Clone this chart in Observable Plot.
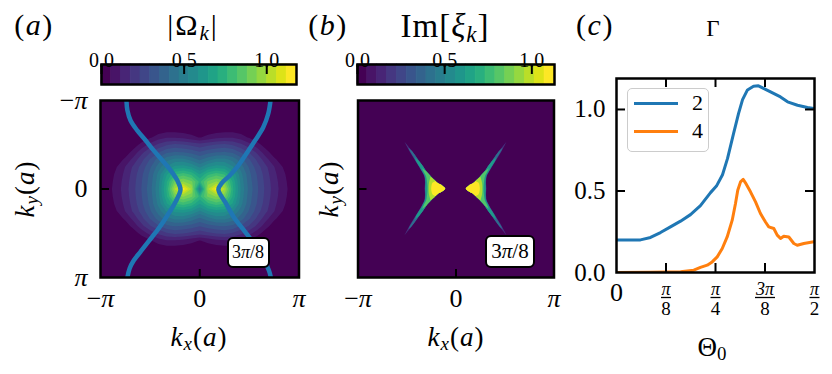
<!DOCTYPE html>
<html><head><meta charset="utf-8">
<script src="https://cdn.jsdelivr.net/npm/d3@7"></script>
<script src="https://cdn.jsdelivr.net/npm/@observablehq/plot@0.6"></script>
<style>
body{margin:0;background:#fff;}
#fig{position:relative;width:832px;height:374px;overflow:hidden;font-family:"Liberation Serif",serif;color:#000;background:#fff;}
#fig > svg, #fig > figure{position:absolute;margin:0;}
.lbl{position:absolute;white-space:nowrap;line-height:1;}
.lbl sub{font-size:0.7em;vertical-align:-0.25em;line-height:0;}
.box{position:absolute;border:2px solid #000;border-radius:6px;background:#fff;display:flex;align-items:center;justify-content:center;box-sizing:border-box;white-space:nowrap;}
.legend{position:absolute;border:1.5px solid #cccccc;border-radius:5px;background:rgba(255,255,255,0.85);box-sizing:border-box;}
.legend .ln{position:absolute;height:3px;}
.legend .tx{position:absolute;font-size:22px;line-height:1;transform:translateY(-50%);}
</style></head><body><div id="fig"></div>
<script>
const PI = Math.PI;

// ---------------- Panel (a): |Ω_k| ----------------
// samples on a π/12 grid, quadrant k_x = 0..π (columns), k_y = 0..π (rows); map is mirror-symmetric
const omegaStep = PI / 12;
const omegaQuadrant = [
  [0.50,1.00,1.16,1.01,0.72,0.52,0.39,0.30,0.22,0.15,0.09,0.04,0.01],
  [0.75,0.90,0.95,0.90,0.70,0.51,0.38,0.295,0.215,0.145,0.085,0.035,0.01],
  [0.65,0.75,0.80,0.76,0.64,0.49,0.37,0.285,0.205,0.135,0.075,0.03,0.01],
  [0.52,0.59,0.62,0.61,0.54,0.44,0.345,0.26,0.19,0.12,0.06,0.02,0.01],
  [0.40,0.45,0.49,0.49,0.45,0.38,0.30,0.22,0.14,0.07,0.03,0.01,0.01],
  [0.30,0.33,0.35,0.36,0.34,0.29,0.23,0.16,0.08,0.03,0.01,0.01,0.01],
  [0.20,0.22,0.24,0.25,0.23,0.19,0.14,0.08,0.03,0.01,0.01,0.01,0.01],
  [0.055,0.08,0.10,0.11,0.11,0.09,0.05,0.02,0.01,0.01,0.01,0.01,0.01],
  [0.01,0.02,0.03,0.035,0.035,0.02,0.01,0.01,0.01,0.01,0.01,0.01,0.01],
  [0.01,0.01,0.01,0.01,0.01,0.01,0.01,0.01,0.01,0.01,0.01,0.01,0.01],
  [0.01,0.01,0.01,0.01,0.01,0.01,0.01,0.01,0.01,0.01,0.01,0.01,0.01],
  [0.01,0.01,0.01,0.01,0.01,0.01,0.01,0.01,0.01,0.01,0.01,0.01,0.01],
  [0.01,0.01,0.01,0.01,0.01,0.01,0.01,0.01,0.01,0.01,0.01,0.01,0.01]
];
const omegaMax = 1.18;     // colorbar upper end
const omegaBandCount = 20; // discrete colour levels
const omegaTicks = [0, 0.5, 1.0];

// blue curve overlaid on (a)
const curveLeftKx  = [-2.32,-2.29,-2.19,-1.98,-1.71,-1.46,-1.18,-0.92,-0.71,-0.61,-0.76,-1.02,-1.30,-1.62,-1.87,-2.09,-2.22,-2.29];
const curveLeftKy  = [-3.14,-2.79,-2.43,-2.08,-1.72,-1.37,-1.01,-0.66,-0.30,0.02,0.44,0.93,1.40,1.86,2.22,2.54,2.82,3.14];
const curveRightKx = [2.24,2.17,2.01,1.75,1.48,1.22,0.95,0.69,0.59,0.83,1.08,1.40,1.71,1.99,2.19,2.25];
const curveRightKy = [-3.14,-2.68,-2.19,-1.72,-1.26,-0.83,-0.48,-0.20,0.02,0.51,1.00,1.47,1.93,2.42,2.89,3.14];

// ---------------- Panel (b): Im[ξ_k] ----------------
// left crescent read as nested colour bands: k_y, left edge k_x, right edge k_x (right crescent = mirror image)
const xiMax = 1.13;
const xiBandCount = 20;
const xiTicks = [0, 0.5, 1.0];
const xiBandValue = [0.15, 0.38, 0.58, 0.78, 0.95, 1.09];
const xiBandKy = [
  [-1.66,-1.35,-1.13,-0.95,-0.77,-0.6,-0.42,-0.3,-0.2,-0.1,0,0.1,0.2,0.3,0.42,0.6,0.77,0.95,1.13,1.35,1.66],
  [-1.45,-1.35,-1.13,-0.95,-0.77,-0.6,-0.42,-0.3,-0.2,-0.1,0,0.1,0.2,0.3,0.42,0.6,0.77,0.95,1.13,1.35,1.45],
  [-1.1,-0.95,-0.77,-0.6,-0.42,-0.3,-0.2,-0.1,0,0.1,0.2,0.3,0.42,0.6,0.77,0.95,1.1],
  [-0.72,-0.6,-0.42,-0.3,-0.2,-0.1,0,0.1,0.2,0.3,0.42,0.6,0.72],
  [-0.42,-0.3,-0.2,-0.1,0,0.1,0.2,0.3,0.42],
  [-0.27,-0.2,-0.1,0,0.1,0.2,0.27]
];
const xiBandLeft = [
  [-1.635,-1.49,-1.37,-1.27,-1.17,-1.08,-1.00,-0.985,-0.98,-0.985,-0.99,-0.985,-0.98,-0.985,-1.00,-1.08,-1.17,-1.27,-1.37,-1.49,-1.635],
  [-1.51,-1.47,-1.35,-1.26,-1.16,-1.07,-0.99,-0.975,-0.97,-0.975,-0.98,-0.975,-0.97,-0.975,-0.99,-1.07,-1.16,-1.26,-1.35,-1.47,-1.51],
  [-1.30,-1.25,-1.15,-1.06,-0.98,-0.965,-0.96,-0.965,-0.97,-0.965,-0.96,-0.965,-0.98,-1.06,-1.15,-1.25,-1.30],
  [-1.07,-1.02,-0.94,-0.92,-0.91,-0.90,-0.90,-0.90,-0.91,-0.92,-0.94,-1.02,-1.07],
  [-0.80,-0.83,-0.85,-0.86,-0.86,-0.86,-0.85,-0.83,-0.80],
  [-0.64,-0.74,-0.77,-0.78,-0.77,-0.74,-0.64]
];
const xiBandRight = [
  [-1.635,-1.41,-1.26,-1.15,-1.03,-0.93,-0.78,-0.67,-0.58,-0.42,-0.33,-0.42,-0.58,-0.67,-0.78,-0.93,-1.03,-1.15,-1.26,-1.41,-1.635],
  [-1.51,-1.41,-1.26,-1.15,-1.03,-0.93,-0.78,-0.67,-0.58,-0.42,-0.33,-0.42,-0.58,-0.67,-0.78,-0.93,-1.03,-1.15,-1.26,-1.41,-1.51],
  [-1.30,-1.15,-1.03,-0.93,-0.78,-0.67,-0.58,-0.42,-0.33,-0.42,-0.58,-0.67,-0.78,-0.93,-1.03,-1.15,-1.30],
  [-1.07,-0.93,-0.78,-0.67,-0.58,-0.42,-0.33,-0.42,-0.58,-0.67,-0.78,-0.93,-1.07],
  [-0.80,-0.67,-0.58,-0.42,-0.33,-0.42,-0.58,-0.67,-0.80],
  [-0.64,-0.58,-0.42,-0.33,-0.42,-0.58,-0.64]
];

// heatmap axis ticks
const heatTicks = [-PI, 0, PI];
const heatTickLabels = ["−π", "0", "π"];

// ---------------- Panel (c): Γ vs Θ0 ----------------
const gamma2Theta = [0,0.111,0.190,0.270,0.349,0.428,0.508,0.587,0.666,0.746,0.793,0.841,0.881,0.928,0.968,1.000,1.039,1.087,1.126,1.166,1.222,1.301,1.357,1.436,1.515,1.571];
const gamma2Value = [0.20,0.20,0.20,0.215,0.245,0.28,0.315,0.355,0.41,0.49,0.53,0.60,0.70,0.85,0.975,1.06,1.12,1.143,1.145,1.13,1.108,1.077,1.047,1.026,1.012,1.005];
const gamma4Theta = [0,0.270,0.508,0.613,0.666,0.720,0.759,0.799,0.839,0.878,0.918,0.944,0.962,0.984,1.005,1.023,1.063,1.103,1.142,1.182,1.208,1.248,1.275,1.301,1.327,1.367,1.407,1.434,1.486,1.565,1.571];
const gamma4Value = [0.0,0.002,0.005,0.014,0.031,0.045,0.065,0.096,0.147,0.218,0.321,0.423,0.505,0.556,0.571,0.55,0.495,0.433,0.362,0.31,0.28,0.27,0.229,0.209,0.223,0.218,0.178,0.167,0.178,0.188,0.188];
const seriesNames = ["2", "4"];
const seriesColors = ["#1f77b4", "#ff7f0e"];
const gammaYTicks = [0, 0.5, 1.0];
const thetaFracTicks = [PI/8, PI/4, 3*PI/8, PI/2];
const thetaFracNum = ["π", "π", "3π", "π"];
const thetaFracDen = ["8", "4", "8", "2"];

// ---------------- build tables ----------------
const N = 2 * (omegaQuadrant.length - 1) + 1; // 25
const omegaGrid = [];
for (let j = 0; j < N; ++j) for (let i = 0; i < N; ++i)
  omegaGrid.push(omegaQuadrant[Math.abs(j - 12)][Math.abs(i - 12)]);
const omegaStepC = omegaMax / omegaBandCount;
const omegaLevels = d3.range(omegaBandCount).map(i => i * omegaStepC);
const xiStepC = xiMax / xiBandCount;
const xiLevels = d3.range(xiBandCount).map(i => i * xiStepC);

const curveLeft = curveLeftKx.map((kx, i) => ({kx, ky: curveLeftKy[i]}));
const curveRight = curveRightKx.map((kx, i) => ({kx, ky: curveRightKy[i]}));

const xiRows = [];
xiBandValue.forEach((v, b) => {
  xiBandKy[b].forEach((ky, i) => {
    xiRows.push({key: b * 2, value: v, ky, x1: xiBandLeft[b][i], x2: xiBandRight[b][i]});
    xiRows.push({key: b * 2 + 1, value: v, ky, x1: -xiBandRight[b][i], x2: -xiBandLeft[b][i]});
  });
});

const gamma2 = gamma2Theta.map((t, i) => ({theta: t, gamma: gamma2Value[i]}));
const gamma4 = gamma4Theta.map((t, i) => ({theta: t, gamma: gamma4Value[i]}));
const fracs = thetaFracTicks.map((v, i) => ({v, num: thetaFracNum[i], den: thetaFracDen[i]}));

const heatFmt = d => heatTickLabels[heatTicks.indexOf(d)];
const serif = "'Liberation Serif', serif";
const fig = document.getElementById("fig");
const hbar = {draw(ctx, size) { const h = Math.sqrt(size / Math.PI); ctx.moveTo(-h, 0); ctx.lineTo(h, 0); }};

function place(el, left, top) {
  el.style.left = left + "px"; el.style.top = top + "px";
  fig.appendChild(el);
}

// ---------- (a) heatmap ----------
const aFrameW = 198.5, aFrameH = 177;
const plotA = Plot.plot({
  width: 330, height: 290,
  marginLeft: 100, marginRight: 330 - 100 - aFrameW, marginTop: 20, marginBottom: 290 - 20 - aFrameH,
  x: {domain: [-PI, PI]},
  y: {domain: [-PI, PI], reverse: true},
  color: {type: "linear", scheme: "viridis", domain: [0, omegaStepC * (omegaBandCount - 1)]},
  style: {fontFamily: serif, fontSize: "26px", background: "transparent", overflow: "visible"},
  marks: [
    Plot.contour(omegaGrid, {
      width: N, height: N,
      x1: -PI - omegaStep / 2, x2: PI + omegaStep / 2,
      y1: -PI - omegaStep / 2, y2: PI + omegaStep / 2,
      fill: Plot.identity, thresholds: omegaLevels, clip: true
    }),
    Plot.line(curveLeft, {x: "kx", y: "ky", stroke: seriesColors[0], strokeWidth: 4.5, curve: "catmull-rom", clip: true}),
    Plot.line(curveRight, {x: "kx", y: "ky", stroke: seriesColors[0], strokeWidth: 4.5, curve: "catmull-rom", clip: true}),
    Plot.tickX([0], {x: d => d, insetTop: aFrameH - 8, stroke: "black", strokeWidth: 2}),
    Plot.tickY([0], {y: d => d, insetRight: aFrameW - 9, stroke: "black", strokeWidth: 2}),
    Plot.frame({stroke: "black", strokeWidth: 2.5}),
    Plot.axisX(heatTicks, {tickFormat: heatFmt, tickSize: 0, tickPadding: 11, fontSize: 26, label: null}),
    Plot.axisY(heatTicks, {tickFormat: heatFmt, tickSize: 0, tickPadding: 13, fontSize: 26, label: null})
  ]
});
place(plotA, 0, 80);

// ---------- (a) colorbar ----------
const cbA = Plot.plot({
  width: 330, height: 60,
  marginLeft: 101, marginRight: 34, marginTop: 34, marginBottom: 6,
  x: {domain: [0, omegaMax]},
  color: {type: "linear", scheme: "viridis", domain: [0, omegaStepC * (omegaBandCount - 1)]},
  style: {fontFamily: serif, fontSize: "20px", background: "transparent", overflow: "visible"},
  marks: [
    Plot.rect(omegaLevels, {x1: d => d, x2: d => d + omegaStepC, fill: d => d, stroke: d => d, strokeWidth: 0.8}),
    Plot.tickX(omegaTicks, {x: d => d, insetBottom: 10, stroke: "black", strokeWidth: 2}),
    Plot.frame({stroke: "black", strokeWidth: 2.5}),
    Plot.axisX(omegaTicks, {anchor: "top", tickSize: 0, tickPadding: 0, dy: 2, tickFormat: d3.format(".1f"), fontSize: 20, label: null})
  ]
});
place(cbA, 0, 30);

// ---------- (b) heatmap ----------
const bFrameW = 196, bFrameH = 177;
const plotB = Plot.plot({
  width: 330, height: 290,
  marginLeft: 100.5, marginRight: 330 - 100.5 - bFrameW, marginTop: 20, marginBottom: 290 - 20 - bFrameH,
  x: {domain: [-PI, PI]},
  y: {domain: [-PI, PI], reverse: true, axis: null},
  color: {type: "linear", scheme: "viridis", domain: [0, xiStepC * (xiBandCount - 1)]},
  style: {fontFamily: serif, fontSize: "26px", background: "transparent", overflow: "visible"},
  marks: [
    Plot.rect([0], {fill: d => d}),
    Plot.areaX(xiRows, {y: "ky", x1: "x1", x2: "x2", z: "key", fill: "value", curve: "catmull-rom", clip: true}),
    Plot.tickX([0], {x: d => d, insetTop: bFrameH - 8, stroke: "black", strokeWidth: 2}),
    Plot.tickY([0], {y: d => d, insetRight: bFrameW - 9, stroke: "black", strokeWidth: 2}),
    Plot.frame({stroke: "black", strokeWidth: 2.5}),
    Plot.axisX(heatTicks, {tickFormat: heatFmt, tickSize: 0, tickPadding: 11, fontSize: 26, label: null})
  ]
});
place(plotB, 257, 80);

// ---------- (b) colorbar ----------
const cbB = Plot.plot({
  width: 330, height: 60,
  marginLeft: 100, marginRight: 33, marginTop: 34, marginBottom: 6,
  x: {domain: [0, xiMax]},
  color: {type: "linear", scheme: "viridis", domain: [0, xiStepC * (xiBandCount - 1)]},
  style: {fontFamily: serif, fontSize: "20px", background: "transparent", overflow: "visible"},
  marks: [
    Plot.rect(xiLevels, {x1: d => d, x2: d => d + xiStepC, fill: d => d, stroke: d => d, strokeWidth: 0.8}),
    Plot.tickX(xiTicks, {x: d => d, insetBottom: 10, stroke: "black", strokeWidth: 2}),
    Plot.frame({stroke: "black", strokeWidth: 2.5}),
    Plot.axisX(xiTicks, {anchor: "top", tickSize: 0, tickPadding: 0, dy: 2, tickFormat: d3.format(".1f"), fontSize: 20, label: null})
  ]
});
place(cbB, 257, 30);

// ---------- (c) line chart ----------
const cFrameW = 198, cFrameH = 194;
const innerXTicks = [PI/8, PI/4, 3*PI/8];
const plotC = Plot.plot({
  width: 292, height: 320,
  marginLeft: 76, marginRight: 292 - 76 - cFrameW, marginTop: 28, marginBottom: 320 - 28 - cFrameH,
  x: {domain: [0, PI / 2]},
  y: {domain: [0, 1.19]},
  style: {fontFamily: serif, fontSize: "25px", background: "transparent", overflow: "visible"},
  marks: [
    Plot.line(gamma2, {x: "theta", y: "gamma", stroke: seriesColors[0], strokeWidth: 3, clip: true}),
    Plot.line(gamma4, {x: "theta", y: "gamma", stroke: seriesColors[1], strokeWidth: 3, clip: true}),
    Plot.tickX(innerXTicks, {x: d => d, insetTop: cFrameH - 9, stroke: "black", strokeWidth: 2}),
    Plot.tickX(innerXTicks, {x: d => d, insetBottom: cFrameH - 9, stroke: "black", strokeWidth: 2}),
    Plot.tickY([0.5, 1.0], {y: d => d, insetRight: cFrameW - 9, stroke: "black", strokeWidth: 2}),
    Plot.tickY([0.5, 1.0], {y: d => d, insetLeft: cFrameW - 9, stroke: "black", strokeWidth: 2}),
    Plot.frame({stroke: "black", strokeWidth: 2.5}),
    Plot.axisY(gammaYTicks, {tickSize: 0, tickPadding: 11, tickFormat: d3.format(".1f"), fontSize: 25, label: null}),
    Plot.axisX([0], {tickSize: 0, tickPadding: 10, tickFormat: d => "0", fontSize: 26, label: null}),
    Plot.text(fracs, {x: "v", text: "num", frameAnchor: "bottom", dy: 16.5, lineAnchor: "middle", fontSize: 18, fontStyle: "italic"}),
    Plot.dot(fracs, {filter: d => d.num.length === 1, x: "v", frameAnchor: "bottom", dy: 25, r: 5, symbol: hbar, stroke: "black", strokeWidth: 1.3, fill: "none"}),
    Plot.dot(fracs, {filter: d => d.num.length > 1, x: "v", frameAnchor: "bottom", dy: 25, r: 10, symbol: hbar, stroke: "black", strokeWidth: 1.3, fill: "none"}),
    Plot.text(fracs, {x: "v", text: "den", frameAnchor: "bottom", dy: 36.5, lineAnchor: "middle", fontSize: 19})
  ]
});
place(plotC, 540, 50);

// italic π in tick labels
for (const svg of [plotA, plotB, plotC]) {
  d3.select(svg).selectAll("text").each(function () {
    const t = this.textContent;
    if (t.includes("π") && this.children.length === 0) {
      this.innerHTML = t.replace(/π/g, '<tspan font-style="italic">π</tspan>');
    }
  });
}

// ---------- text labels ----------
function label(html, cx, cy, size, rotate, spacing) {
  const d = document.createElement("div");
  d.className = "lbl";
  d.innerHTML = html;
  d.style.fontSize = size + "px";
  if (spacing) d.style.letterSpacing = spacing + "px";
  d.style.transform = "translate(-50%,-50%)" + (rotate ? ` rotate(${rotate}deg)` : "");
  place(d, cx, cy);
}
label("(<i>a</i>)", 34, 25, 30, 0, 1.5);
label("|Ω<sub><i>k</i></sub>|", 193, 25, 30, 0, 2);
label("(<i>b</i>)", 328, 25, 30, 0, 1.5);
label("Im[<i>ξ</i><sub><i>k</i></sub>]", 445, 26, 33, 0, 1);
label("(<i>c</i>)", 595, 25, 30, 0, 1.5);
label("Γ", 713, 28, 23);
label("<i>k</i><sub><i>y</i></sub>(<i>a</i>)", 25, 189, 27, -90, 1);
label("<i>k</i><sub><i>x</i></sub>(<i>a</i>)", 199, 337, 27, 0, 1);
label("<i>k</i><sub><i>y</i></sub>(<i>a</i>)", 329, 189, 27, -90, 1);
label("<i>k</i><sub><i>x</i></sub>(<i>a</i>)", 456, 337, 27, 0, 1);
label("Θ<sub>0</sub>", 712, 347, 27);

function box(html, left, top, w, h, size) {
  const d = document.createElement("div");
  d.className = "box";
  d.innerHTML = html;
  d.style.width = w + "px"; d.style.height = h + "px"; d.style.fontSize = size + "px";
  place(d, left, top);
}
box("3<i>π</i>/8", 226.5, 236.5, 43, 31, 18);
box("3<i>π</i>/8", 485, 235, 50, 33, 21);

// legend
const lg = document.createElement("div");
lg.className = "legend";
lg.style.width = "82px"; lg.style.height = "64px";
seriesNames.forEach((name, i) => {
  const ln = document.createElement("div");
  ln.className = "ln";
  ln.style.left = "6px"; ln.style.width = "44px";
  ln.style.top = (14 + 28 * i - 1.5) + "px";
  ln.style.background = seriesColors[i];
  lg.appendChild(ln);
  const tx = document.createElement("div");
  tx.className = "tx";
  tx.style.left = "64px"; tx.style.top = (14 + 28 * i) + "px";
  tx.textContent = name;
  lg.appendChild(tx);
});
place(lg, 627, 88);
</script></body></html>
